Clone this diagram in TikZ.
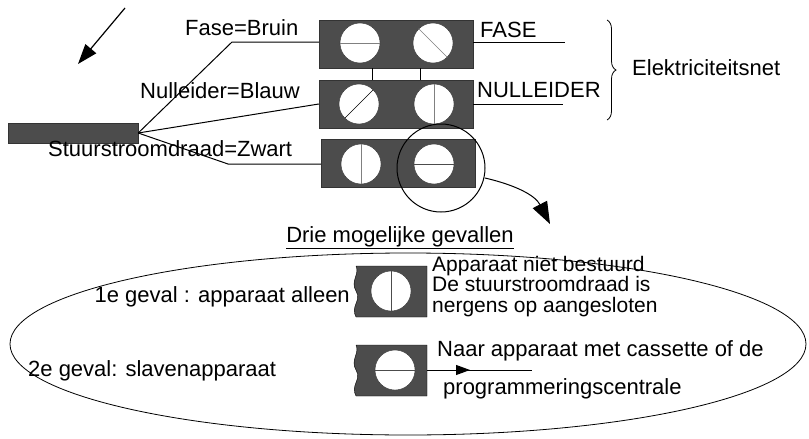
\documentclass[tikz,border=0pt]{standalone}
\usepackage{fontspec}
\setmainfont{Liberation Sans}
\usetikzlibrary{arrows.meta,decorations.pathreplacing}
\begin{document}
\begin{tikzpicture}[x=1pt,y=-1pt,
  blk/.style={fill=black!70,draw=black!80},
  scr/.style={fill=white,draw=black!80},
  wire/.style={draw=black,line width=1pt},
  lbl/.style={font=\fontsize{22}{24}\selectfont,inner sep=0pt}]
\useasboundingbox (0,0) rectangle (809,439);
% arrow
\coordinate (a1) at (125,8); \coordinate (a2) at (78,64);
\draw[line width=1.2pt,-{Triangle[length=20pt,width=14pt]}] (a1) -- (a2);
% bar
\node[blk,minimum width=130,minimum height=20,inner sep=0] (bar) at (73,133) {};
% blocks
\foreach \n/\x/\y in {t/396/44,m/396/104,b/398/163}{
  \node[blk,minimum width=154,minimum height=48,inner sep=0] (\n) at (\x,\y) {};}
\foreach \n/\x/\y in {t1/360/43,t2/433/43,m1/359/104,m2/434/104,b1/361/164,b2/434/164}{
  \node[scr,circle,minimum size=40,inner sep=0] (\n) at (\x,\y) {};}
\draw[gray] (t1.west) -- (t1.east);
\draw[gray] (t2.north west) -- (t2.south east);
\draw[black] (m1.south west) -- (m1.north east);
\draw[gray] (m2.north) -- (m2.south);
\draw[gray] (b1.north) -- (b1.south);
\draw[black!70] (b2.west) -- (b2.east);
\draw[wire] (372,68) -- (372,80) (420,68) -- (420,80);
% wires
\draw[wire] (bar.east) -- (232,42) -- (t.west |- 0,42);
\draw[wire] (bar.east) -- (m.west |- 0,104);
\draw[wire] (bar.east) -- (228,164) -- (b.west |- 0,164);
\node[lbl,anchor=south west] (l1) at (185,36) {Fase=Bruin};
\node[lbl,anchor=south west] (l2) at (140,99) {Nulleider=Blauw};
\node[lbl,anchor=south west] (l3) at (48,157) {Stuurstroomdraad=Zwart};
\draw[wire] (t.east |- 0,42) -- (565,42);
\draw[wire] (m.east |- 0,104) -- (563,104);
\node[lbl,anchor=south west] (f) at (480,38) {FASE};
\node[lbl,anchor=south west] (n) at (477,98) {NULLEIDER};
\draw[line width=0.8pt,decorate,decoration={brace,amplitude=9pt}] (607,20) -- (607,120);
\node[lbl,anchor=west] (e) at (632,68) {Elektriciteitsnet};
% magnifier
\node[circle,draw,line width=1pt,minimum size=88,inner sep=0] (mag) at (441,168) {};
\coordinate (ae) at (550,224);
\draw[line width=1pt,-{Triangle[length=22pt,width=16pt]}] (485,178) .. controls (515,185) and (535,195) .. (ae);
\draw[line width=0.8pt] (408,344) ellipse [x radius=398,y radius=91];
\node[lbl,anchor=south] (dr) at (400,249) {\underline{Drie mogelijke gevallen}};
% small blocks
\foreach \n/\y in {s1/266,s2/345}{
  \path[blk,draw=black] (356,\y) -- (427,\y) -- (427,\y+51) -- (356,\y+51)
     .. controls (350,\y+40) and (362,\y+35) .. (356,\y+25) .. controls (350,\y+15) and (360,\y+8) .. (356,\y);}
\node[scr,circle,minimum size=40,inner sep=0] (c1) at (391,291) {};
\node[scr,circle,minimum size=40,inner sep=0] (c2) at (395,370) {};
\draw[black!70] (c1.north) -- (c1.south);
\draw[black!70] (c2.west) -- (c2.east);
\coordinate (ne) at (532,370);
\draw[line width=1pt] (427,370) -- (ne);
\draw[-{Triangle[length=14pt,width=10pt]},line width=1pt] (440,370) -- (470,370);
\node[lbl,anchor=east] (g1) at (350,297) {1e geval : apparaat alleen};
\node[lbl,anchor=west] (g2) at (28,371) {2e geval: slavenapparaat};
\node[lbl,anchor=north west,align=left,font=\fontsize{21}{20.5}\selectfont] (t1) at (432,256) {Apparaat niet bestuurd\\De stuurstroomdraad is\\nergens op aangesloten};
\node[lbl,anchor=west] (t2a) at (437,351) {Naar apparaat met cassette of de};
\node[lbl,anchor=west] (t2b) at (443,389) {programmeringscentrale};
\end{tikzpicture}
\end{document}
